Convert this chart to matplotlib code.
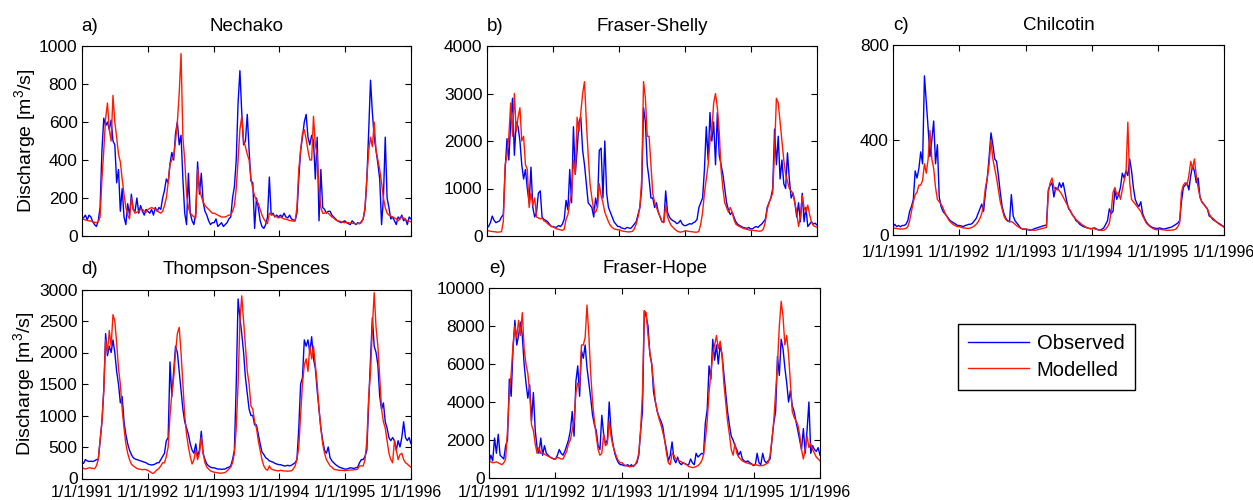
import numpy as np
import pandas as pd
import matplotlib
matplotlib.use('Agg')
import matplotlib.pyplot as plt
from matplotlib.lines import Line2D

plt.rcParams['font.family'] = ['Liberation Sans', 'DejaVu Sans']
plt.rcParams['mathtext.fontset'] = 'custom'
plt.rcParams['mathtext.rm'] = 'Liberation Sans'
plt.rcParams['mathtext.default'] = 'regular'

# ~10-day sampling, 1/1/1991 .. 1/1/1996 (36 values per year)
dates = pd.date_range('1991-01-01', '1996-01-01', periods=180)
year_ticks = pd.to_datetime(['1991-01-01', '1992-01-01', '1993-01-01',
                             '1994-01-01', '1995-01-01', '1996-01-01'])
year_labels = ['1/1/1991', '1/1/1992', '1/1/1993', '1/1/1994', '1/1/1995', '1/1/1996']

nechako_obs = [
    100, 95, 110, 85, 110, 100, 75, 60, 50, 80, 150, 450, 620, 580, 600, 560, 610, 500,
    480, 280, 350, 130, 250, 100, 60, 170, 110, 220, 140, 130, 200, 120, 160, 130, 110, 140,
    130, 120, 140, 110, 150, 130, 150, 140, 200, 240, 300, 280, 380, 440, 400, 540, 600, 480,
    530, 300, 120, 60, 330, 120, 80, 60, 120, 390, 220, 330, 180, 130, 110, 80, 60, 70,
    70, 90, 50, 60, 70, 50, 60, 70, 90, 100, 200, 260, 400, 700, 870, 650, 480, 500,
    640, 450, 290, 280, 40, 200, 150, 80, 50, 40, 60, 100, 310, 110, 120, 100, 110, 100,
    110, 100, 120, 100, 95, 110, 90, 85, 80, 120, 300, 450, 520, 600, 640, 520, 480, 530,
    500, 300, 520, 80, 350, 150, 140, 120, 130, 130, 110, 100, 90, 80, 75, 70, 75, 80,
    70, 65, 60, 80, 70, 60, 70, 65, 75, 90, 140, 300, 550, 820, 650, 520, 450, 380,
    300, 60, 200, 520, 200, 150, 90, 100, 80, 60, 100, 90, 110, 80, 90, 60, 100, 90]
nechako_mod = [
    90, 88, 85, 82, 80, 78, 75, 72, 70, 75, 100, 300, 450, 620, 700, 560, 500, 740,
    600, 520, 430, 390, 300, 220, 150, 110, 90, 200, 140, 120, 125, 130, 140, 140, 130, 125,
    140, 145, 150, 145, 140, 135, 125, 120, 130, 160, 200, 280, 380, 400, 420, 500, 600, 750,
    960, 520, 400, 220, 150, 120, 110, 100, 95, 350, 250, 210, 180, 160, 150, 140, 130, 120,
    120, 115, 110, 105, 100, 100, 100, 105, 110, 110, 130, 160, 250, 400, 560, 630, 500, 470,
    430, 400, 300, 250, 210, 190, 170, 140, 110, 90, 75, 65, 120, 115, 110, 105, 100, 95,
    100, 95, 90, 88, 85, 82, 80, 78, 80, 150, 350, 450, 540, 560, 510, 450, 400, 400,
    630, 480, 430, 250, 150, 120, 120, 125, 120, 110, 100, 95, 85, 80, 78, 75, 72, 70,
    72, 70, 68, 67, 66, 65, 65, 66, 70, 90, 150, 300, 450, 520, 470, 600, 450, 400,
    350, 280, 200, 150, 120, 110, 105, 100, 95, 90, 80, 90, 100, 95, 85, 80, 78, 75]

shelly_obs = [
    170, 200, 280, 420, 330, 280, 300, 320, 400, 450, 1400, 2050, 1600, 2400, 2900, 1700, 2400, 2300,
    2000, 1500, 1200, 1400, 1000, 700, 1450, 600, 400, 500, 900, 950, 400, 350, 330, 300, 250, 200,
    200, 180, 190, 220, 200, 250, 350, 750, 550, 1400, 700, 2300, 1300, 1800, 2400, 2500, 1800, 1500,
    1100, 700, 650, 600, 400, 800, 600, 1800, 1850, 800, 2000, 900, 600, 500, 400, 300, 250, 200,
    200, 170, 160, 150, 180, 170, 160, 200, 250, 300, 450, 600, 1000, 2700, 2400, 1500, 1200, 800,
    800, 600, 700, 500, 400, 300, 300, 950, 500, 400, 350, 320, 300, 260, 280, 330, 250, 220,
    220, 240, 260, 250, 280, 300, 350, 600, 700, 800, 1400, 2300, 1600, 2600, 2000, 2400, 1500, 2600,
    1700, 1500, 1300, 1000, 700, 550, 450, 500, 400, 300, 250, 220, 200, 180, 170, 160, 180, 150,
    150, 180, 200, 180, 220, 250, 300, 350, 600, 700, 800, 1000, 2250, 1500, 2100, 1200, 1600, 1100,
    1000, 1750, 1200, 800, 900, 700, 400, 700, 300, 900, 300, 600, 200, 250, 300, 250, 270, 230]
shelly_mod = [
    130, 110, 100, 95, 90, 85, 80, 85, 90, 300, 1500, 1700, 2100, 2800, 2100, 3000, 2200, 2500,
    2700, 2000, 2100, 1500, 1400, 600, 900, 650, 800, 400, 380, 360, 380, 320, 300, 260, 230, 200,
    190, 170, 150, 140, 130, 120, 140, 350, 450, 700, 900, 1600, 1300, 2500, 2200, 2600, 3000, 3250,
    2400, 1700, 1100, 800, 550, 500, 600, 1100, 850, 700, 500, 400, 300, 220, 180, 150, 140, 130,
    130, 110, 100, 95, 90, 85, 90, 100, 150, 250, 400, 600, 1200, 3250, 2900, 2100, 2100, 1500,
    900, 700, 600, 500, 400, 300, 280, 650, 400, 300, 220, 180, 140, 110, 90, 80, 90, 100,
    110, 100, 95, 90, 85, 80, 80, 100, 250, 500, 900, 1200, 1500, 2000, 2200, 2800, 3000, 2700,
    2200, 1400, 1000, 700, 600, 500, 600, 500, 350, 250, 220, 200, 180, 160, 150, 140, 130, 120,
    120, 115, 110, 105, 100, 110, 150, 300, 550, 700, 800, 900, 1800, 2900, 2800, 2400, 2000, 1600,
    1300, 1150, 1000, 950, 900, 700, 500, 200, 400, 850, 600, 500, 650, 450, 300, 220, 200, 180]

chilcotin_obs = [
    35, 45, 35, 40, 35, 40, 40, 45, 60, 100, 120, 150, 270, 240, 280, 350, 300, 670,
    560, 450, 330, 400, 480, 300, 380, 160, 120, 100, 90, 80, 70, 60, 55, 50, 45, 40,
    40, 38, 35, 40, 42, 45, 45, 50, 60, 70, 90, 110, 130, 100, 180, 240, 330, 430,
    380, 320, 310, 250, 180, 120, 90, 70, 60, 55, 170, 80, 60, 50, 40, 30, 25, 25,
    25, 22, 20, 22, 25, 28, 30, 33, 35, 38, 40, 42, 190, 210, 220, 160, 200, 190,
    220, 200, 220, 180, 140, 110, 100, 85, 75, 60, 55, 45, 40, 35, 33, 30, 28, 27,
    28, 30, 25, 22, 20, 25, 30, 45, 60, 110, 90, 100, 190, 150, 170, 200, 260, 240,
    270, 250, 320, 270, 200, 150, 130, 120, 140, 90, 70, 55, 45, 38, 33, 30, 28, 27,
    30, 28, 25, 26, 28, 30, 32, 35, 40, 45, 50, 60, 140, 200, 210, 220, 190, 250,
    290, 270, 220, 240, 160, 140, 130, 120, 110, 80, 75, 65, 60, 55, 50, 45, 40, 35]
chilcotin_mod = [
    30, 28, 27, 26, 25, 25, 26, 28, 35, 60, 100, 140, 170, 180, 210, 210, 230, 300,
    260, 320, 440, 320, 280, 200, 150, 140, 130, 115, 95, 80, 65, 55, 48, 42, 38, 35,
    35, 32, 30, 29, 28, 28, 30, 33, 38, 45, 55, 70, 90, 130, 200, 240, 300, 400,
    320, 280, 240, 190, 140, 110, 80, 65, 58, 57, 56, 52, 45, 38, 33, 28, 26, 25,
    25, 23, 22, 21, 20, 20, 22, 24, 26, 28, 30, 32, 180, 220, 240, 200, 190, 195,
    185, 175, 160, 145, 130, 115, 100, 85, 75, 65, 58, 52, 45, 40, 35, 30, 28, 25,
    28, 26, 24, 22, 20, 19, 20, 25, 35, 50, 100, 180, 200, 170, 180, 150, 190, 230,
    260, 475, 220, 150, 140, 130, 120, 110, 100, 80, 65, 50, 42, 35, 30, 25, 23, 22,
    25, 23, 22, 21, 20, 20, 20, 21, 22, 25, 35, 50, 180, 210, 220, 210, 250, 310,
    280, 320, 250, 200, 160, 140, 130, 120, 110, 90, 75, 70, 62, 55, 48, 42, 38, 32]

thompson_obs = [
    250, 240, 300, 280, 270, 275, 270, 280, 300, 300, 600, 900, 1400, 2300, 1950, 2100, 2000, 2200,
    2000, 1700, 1500, 1200, 1300, 900, 700, 550, 450, 380, 330, 310, 300, 290, 280, 270, 260, 250,
    230, 220, 215, 220, 230, 250, 250, 300, 350, 400, 600, 650, 1850, 1300, 1700, 2100, 2000, 1700,
    1400, 1100, 900, 800, 700, 550, 450, 400, 550, 350, 450, 750, 400, 300, 230, 200, 180, 170,
    170, 160, 150, 150, 145, 150, 150, 170, 180, 200, 300, 450, 1500, 2850, 2550, 2300, 2000, 1600,
    1350, 1100, 1000, 1000, 850, 850, 700, 550, 420, 380, 330, 310, 280, 270, 260, 240, 230, 220,
    220, 210, 200, 200, 210, 200, 210, 230, 250, 300, 800, 1500, 1600, 2200, 2100, 2200, 2000, 2250,
    1900, 1750, 1400, 1100, 800, 600, 450, 400, 500, 330, 280, 250, 220, 200, 180, 170, 160, 150,
    150, 160, 170, 165, 160, 170, 180, 250, 300, 300, 350, 450, 1200, 1900, 2550, 2100, 2000, 1800,
    1300, 1100, 1200, 900, 800, 650, 600, 650, 600, 450, 600, 500, 650, 900, 650, 600, 650, 550]
thompson_mod = [
    180, 160, 150, 160, 170, 165, 160, 155, 200, 300, 600, 900, 1400, 2200, 2000, 2350, 2100, 2600,
    2500, 2150, 1750, 1500, 1100, 800, 550, 400, 300, 230, 200, 180, 160, 150, 145, 140, 145, 140,
    130, 110, 90, 80, 110, 140, 160, 200, 250, 250, 350, 500, 1000, 1350, 1600, 2000, 2300, 2400,
    2000, 1500, 1000, 700, 500, 350, 230, 300, 450, 300, 400, 650, 400, 250, 180, 150, 120, 110,
    100, 95, 90, 85, 85, 90, 95, 120, 150, 180, 250, 400, 800, 1500, 2500, 2900, 2500, 2100,
    1700, 1500, 1150, 1100, 900, 800, 600, 450, 300, 200, 150, 130, 200, 150, 140, 130, 125, 120,
    130, 125, 120, 120, 115, 120, 120, 150, 200, 300, 500, 1000, 1500, 1800, 1900, 1700, 2100, 1900,
    2100, 1800, 1500, 1100, 800, 550, 400, 300, 250, 200, 180, 150, 140, 135, 130, 130, 130, 125,
    130, 130, 135, 135, 140, 140, 150, 200, 200, 200, 300, 600, 1300, 1700, 2400, 2950, 2400, 2100,
    1600, 1100, 900, 800, 600, 400, 300, 250, 600, 450, 300, 380, 400, 300, 250, 230, 200, 180]

hope_obs = [
    800, 1200, 900, 2100, 1300, 2300, 1200, 1100, 1000, 1700, 2000, 5200, 4300, 6800, 8300, 7000, 7500, 8200,
    7500, 6000, 5000, 4200, 4900, 3000, 4500, 2500, 1600, 1300, 2100, 1200, 1700, 1300, 1200, 1100, 1050, 1000,
    1000, 1200, 1500, 1300, 1200, 1400, 1700, 2000, 2500, 3500, 2200, 5100, 5900, 4300, 6700, 6300, 7000, 5800,
    5000, 4200, 3300, 2800, 2500, 1700, 1500, 3300, 2300, 1800, 2000, 4000, 2500, 1800, 1300, 1000, 800, 700,
    700, 650, 650, 700, 600, 700, 600, 700, 800, 1200, 2500, 3500, 8800, 8500, 8000, 6500, 6000, 4500,
    4000, 3500, 3200, 3000, 2700, 2000, 1500, 900, 1200, 1900, 1000, 800, 1100, 800, 700, 800, 750, 700,
    700, 1000, 800, 700, 1300, 1100, 1200, 1300, 1250, 2900, 3600, 5900, 5200, 7300, 6200, 7000, 6000, 7000,
    6500, 5500, 4500, 3500, 2800, 2200, 2000, 1700, 1500, 1200, 1400, 1000, 900, 850, 900, 800, 750, 650,
    700, 1300, 800, 700, 1300, 900, 800, 900, 1000, 2000, 2900, 3500, 6400, 5400, 7300, 6800, 5800, 5000,
    4000, 4600, 3800, 3500, 3000, 2500, 2000, 1500, 2600, 1300, 2500, 4000, 1300, 1700, 1500, 1400, 1600, 1200]
hope_mod = [
    900, 850, 800, 820, 850, 800, 750, 700, 800, 1000, 2500, 4500, 5500, 7000, 8000, 7400, 8300, 7500,
    8700, 6800, 6000, 5500, 4500, 2800, 2500, 1800, 1300, 1600, 1300, 1300, 1250, 1200, 1150, 1100, 1050, 1000,
    1000, 1100, 1050, 1000, 1000, 1200, 1400, 1800, 2000, 2500, 3000, 4500, 5000, 4800, 7000, 7000, 7400, 9100,
    7500, 5500, 4000, 3000, 2200, 1500, 1200, 1300, 2300, 1700, 1800, 3000, 2200, 1700, 1400, 1100, 900, 800,
    800, 700, 650, 620, 600, 600, 650, 700, 900, 1300, 2500, 4500, 8800, 8700, 7500, 6600, 6000, 5000,
    4000, 3500, 3100, 2800, 2400, 2000, 1300, 800, 700, 1300, 1200, 1000, 950, 900, 850, 800, 750, 700,
    600, 580, 550, 560, 600, 650, 750, 900, 1200, 2000, 3000, 4500, 5500, 6500, 7000, 7500, 6800, 7200,
    6500, 5000, 4000, 3000, 2300, 1500, 1200, 1800, 1300, 1100, 1000, 900, 850, 800, 780, 750, 720, 700,
    700, 680, 650, 650, 650, 700, 750, 800, 1200, 2000, 3000, 4500, 6000, 8000, 9300, 8500, 7000, 7500,
    6500, 5000, 3500, 3200, 3000, 2800, 2300, 1500, 1000, 1500, 2200, 1600, 1800, 1500, 1300, 1100, 1000, 900]

panels = [
    ('a)', 'Nechako', nechako_obs, nechako_mod, [0, 200, 400, 600, 800, 1000], False, True, 7),
    ('b)', 'Fraser-Shelly', shelly_obs, shelly_mod, [0, 1000, 2000, 3000, 4000], False, False, 7),
    ('c)', 'Chilcotin', chilcotin_obs, chilcotin_mod, [0, 400, 800], True, False, 7),
    ('d)', 'Thompson-Spences', thompson_obs, thompson_mod, [0, 500, 1000, 1500, 2000, 2500, 3000], True, True, 5),
    ('e)', 'Fraser-Hope', hope_obs, hope_mod, [0, 2000, 4000, 6000, 8000, 10000], True, False, 5),
]

W, H = 1253, 500
boxes = [(81.7, 46, 411, 236), (486.7, 46, 817, 236), (893, 45, 1224, 235),
         (81.7, 289.5, 411, 478.5), (489, 288, 820, 478)]

fig = plt.figure(figsize=(W / 100, H / 100), dpi=100)
for (lab, title, obs, mod, yt, showx, showy, xpad), (x0, y0, x1, y1) in zip(panels, boxes):
    ax = fig.add_axes([x0 / W, 1 - y1 / H, (x1 - x0) / W, (y1 - y0) / H])
    ax.plot(dates, obs, color='#0000ff', lw=1.0)
    ax.plot(dates, mod, color='#ff1a00', lw=1.0)
    ax.set_xlim(year_ticks[0], year_ticks[-1])
    ax.set_ylim(yt[0], yt[-1])
    ax.set_yticks(yt)
    ax.set_xticks(year_ticks)
    if showx:
        ax.set_xticklabels(year_labels)
    else:
        ax.set_xticklabels([])
    ax.tick_params(direction='in', top=True, right=True, length=4, width=0.8)
    ax.tick_params(axis='y', labelsize=12.5, pad=3)
    ax.tick_params(axis='x', labelsize=11.5, pad=xpad)
    for s in ax.spines.values():
        s.set_linewidth(0.8)
    if showy:
        ax.set_ylabel('Discharge [m$^3$/s]', fontsize=14, labelpad=1)
    ax.text(0.5, 1.105, title, transform=ax.transAxes, ha='center', va='center', fontsize=13.5)
    ax.text(0.0, 1.105, lab, transform=ax.transAxes, ha='left', va='center', fontsize=13.5)

handles = [Line2D([], [], color='#0000ff', lw=1.0), Line2D([], [], color='#ff1a00', lw=1.0)]
leg = fig.legend(handles, ['Observed', 'Modelled'], loc='center',
                 bbox_to_anchor=(1046.5 / W, 1 - 357 / H), fontsize=14.5,
                 frameon=True, fancybox=False, edgecolor='black', framealpha=1,
                 handlelength=3.0, handletextpad=0.4, borderpad=0.5, labelspacing=0.35)
leg.get_frame().set_linewidth(1.0)

fig.savefig('out.png', dpi=100)
